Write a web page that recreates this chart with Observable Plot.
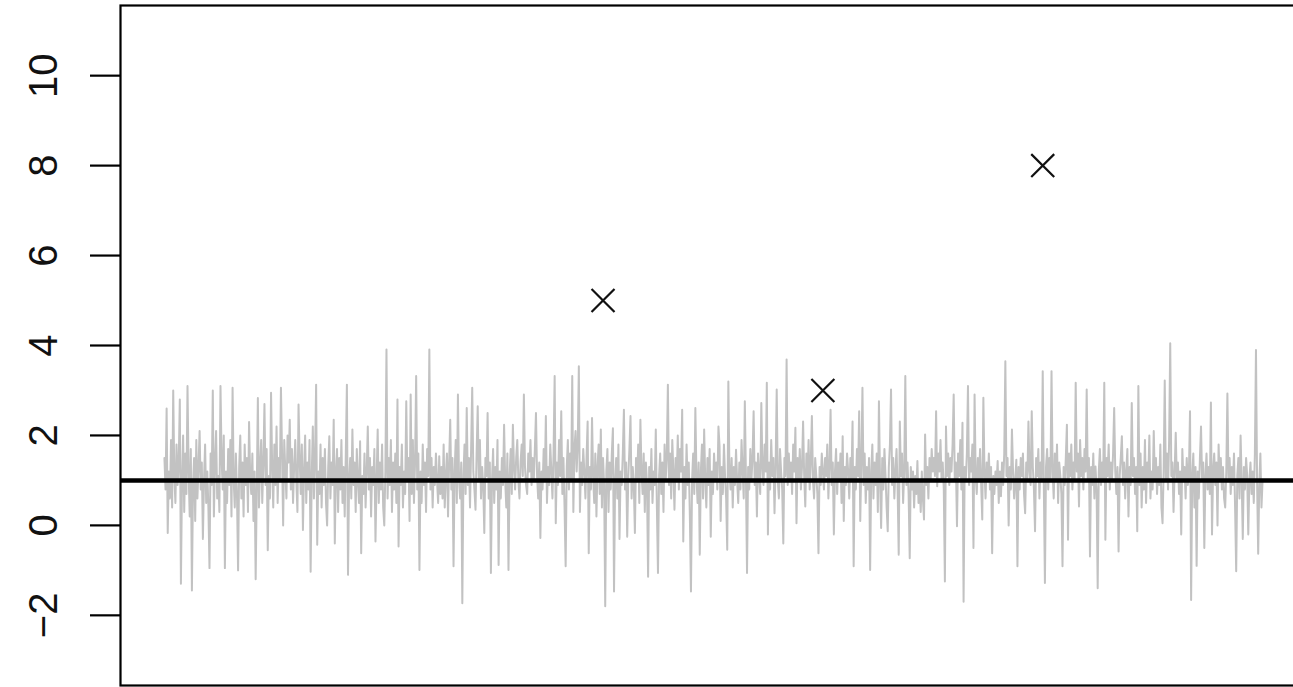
<!DOCTYPE html>
<html>
<head>
<meta charset="utf-8">
<script src="https://cdn.jsdelivr.net/npm/d3@7"></script>
<script src="https://cdn.jsdelivr.net/npm/@observablehq/plot@0.6"></script>
<style>
  html, body { margin: 0; padding: 0; background: #ffffff; overflow: hidden; }
  #chart svg { display: block; }
</style>
</head>
<body>
<div id="chart"></div>
<script>
// Noisy series (index 1..1000)
const series = [
  1.5, 0.8, 2.6, -0.17, 1.2, 0.6, 1.9, 0.4, 3.0, 1.1,
  0.5, 1.8, 0.9, 1.4, 2.8, -1.3, 1.0, 2.0, 0.3, 1.6,
  0.7, 3.1, 1.2, 0.2, 1.7, -1.45, 0.9, 1.5, 0.1, 1.9,
  0.6, 1.3, 2.1, 0.8, 1.4, -0.3, 1.0, 1.8, 0.5, 1.2,
  0.4, -0.95, 1.6, 0.9, 3.0, 0.2, 1.4, 2.1, 0.6, 1.1,
  0.3, 3.1, 1.5, 0.8, 2.0, -0.95, 1.2, 0.5, 1.7, 0.9,
  1.9, 0.2, 3.06, 1.0, 0.4, 1.6, 0.7, -1.0, 1.3, 2.0,
  0.6, 1.4, 0.2, 1.8, 0.9, 1.5, 0.3, 2.3, 1.1, 0.7,
  1.6, 0.1, 1.2, -1.2, 0.8, 2.83, 0.4, 1.3, 1.9, 0.5,
  1.4, 2.7, 0.9, 1.7, -0.55, 1.1, 0.6, 2.95, 1.3, 0.4,
  1.8, 0.9, 2.2, 0.5, 1.5, 1.0, 3.06, 1.6, 0.0, 1.9,
  1.2, 0.6, 2.0, 1.4, 2.35, 0.8, 1.7, 0.5, 1.3, 1.9,
  1.0, 0.3, 2.69, 1.5, 0.7, 1.8, -0.1, 1.2, 2.0, 0.5,
  1.4, 0.8, 1.9, -1.03, 1.1, 2.2, 0.6, 1.5, 3.13, -0.43,
  1.2, 0.7, 1.8, 0.4, 1.5, 0.9, 1.7, 0.5, 0.0, 1.3,
  1.98, 0.6, 1.4, 0.9, 2.35, -0.4, 1.2, 1.7, 0.3, 1.5,
  0.8, 1.9, 0.5, 1.3, 0.2, 1.6, 3.13, -1.1, 1.0, 1.5,
  0.6, 2.13, 0.9, 1.4, 0.3, 1.7, 1.0, 0.5, 1.87, -0.62,
  1.1, 0.7, 1.6, 0.4, 1.2, 2.2, 0.8, 1.5, 0.2, 1.3,
  0.9, 1.7, -0.36, 1.0, 2.13, 0.5, 1.4, 0.8, 1.8, 0.4,
  0.0, 1.2, 3.91, 0.6, 1.5, 0.9, 1.9, 0.3, 1.4, 0.8,
  1.6, 0.5, 2.8, -0.47, 1.3, 0.9, 1.8, 0.4, 1.2, 0.7,
  2.76, 1.0, 1.5, 0.1, 2.91, 0.7, 1.9, 0.5, 1.4, 3.32,
  0.8, 1.6, -0.99, 1.2, 0.5, 1.8, 0.9, 1.4, 0.3, 1.7,
  1.1, 3.91, 0.8, 1.5, 0.4, 1.3, 0.9, 1.6, 1.0, 0.5,
  1.54, 0.7, 1.3, 0.6, 1.8, 0.4, 1.1, 1.6, 0.2, 1.4,
  2.35, 0.8, 1.5, -0.91, 1.2, 1.9, 0.5, 2.91, 1.0, 0.6,
  1.4, -1.73, 1.1, 1.8, 0.7, 2.61, 0.9, 1.5, 0.4, 1.7,
  3.06, 1.2, 0.8, 0.35, 1.6, 2.65, 1.0, 1.9, 0.6, 1.3,
  0.9, -0.17, 1.5, 1.1, 2.5, 0.6, 1.4, -1.06, 1.0, 1.7,
  0.5, 1.3, 0.8, 1.9, -0.88, 1.2, 0.6, 1.5, 0.9, 2.24,
  1.0, 0.4, 1.6, -0.99, 1.1, 1.7, 0.7, 2.24, 1.3, 0.8,
  1.5, 1.9, 1.0, 0.6, 1.4, 1.8, 1.1, 2.91, 1.3, 0.9,
  0.7, 1.6, 1.2, 1.9, 0.9, 1.5, 1.0, 1.7, 2.5, 1.1,
  0.6, 1.4, -0.28, 1.2, 0.8, 1.7, 1.0, 2.43, 0.5, 1.3,
  0.9, 1.8, 1.2, 0.6, 1.6, 3.32, 0.05, 1.4, 0.9, 1.9,
  1.1, 2.54, 0.7, 1.5, 0.4, -0.91, 1.3, 1.9, 0.8, 1.6,
  1.0, 3.32, 0.3, 1.7, 2.1, 1.2, 1.8, 3.54, 0.3, 1.4,
  0.9, 1.7, 1.2, 0.6, 1.5, 2.31, -0.62, 1.3, 0.8, 2.39,
  1.1, 0.5, 1.6, 0.2, 1.3, 1.8, 0.7, 2.13, 0.4, 1.5,
  0.9, -1.8, 1.2, 1.7, 0.3, 1.4, 0.8, 1.6, 2.16, -1.47,
  1.0, 1.5, 0.6, 1.8, -0.3, 1.2, 0.9, 1.6, 2.57, 0.8,
  1.4, -0.25, 1.1, 1.7, 2.43, 0.6, 1.3, 0.9, -0.17, 1.5,
  1.0, 1.8, 0.5, 2.35, 1.2, 0.7, 1.6, 0.3, 1.4, 0.9,
  -1.14, 1.3, 0.8, 1.7, 0.5, 1.2, 0.9, 2.13, 0.4, -1.06,
  1.1, 1.6, 0.7, 1.4, 0.3, 1.8, 1.0, 1.5, 3.13, 0.9,
  1.6, 0.6, 1.9, 1.2, 0.35, 1.5, 1.0, 2.0, 0.8, 1.7,
  1.2, 2.57, -0.36, 1.3, 0.6, 1.8, 0.9, 1.4, 0.2, -1.47,
  1.0, 1.6, 0.7, 2.61, 1.1, 0.5, 1.4, -0.65, 1.2, 1.8,
  0.6, 2.13, 1.0, 0.4, 1.5, 0.9, 1.7, -0.25, 1.2, 0.7,
  1.6, 1.0, 1.4, 0.8, 2.2, 1.76, 0.1, 1.3, 0.7, 1.8,
  1.1, 0.6, -0.54, 3.2, 1.2, 0.8, 1.5, 0.4, 1.3, 0.9,
  1.68, 1.0, 0.5, 1.4, 0.8, 1.9, 1.2, 0.6, 2.76, 1.1,
  -1.06, 1.3, 0.8, 1.7, 1.0, 1.5, 2.54, 0.9, 1.4, 0.2,
  1.6, 1.1, 0.7, 2.72, 1.3, 0.9, 1.8, 1.2, 3.17, -0.2,
  1.4, 0.8, 1.9, 1.1, 1.5, 0.27, 1.3, 3.02, 1.0, 0.6,
  1.7, 1.2, 0.8, -0.4, 1.5, 1.1, 3.69, 0.9, 1.6, 1.0,
  1.4, 0.7, 1.8, 1.2, 2.17, 0.05, 1.5, 1.0, 1.7, 0.8,
  1.3, 2.31, 1.1, 0.42, 1.6, 1.0, 1.9, 0.8, 1.4, 2.43,
  1.0, 0.6, 1.5, 1.1, 0.7, -0.62, 1.3, 0.9, 1.6, 1.2,
  0.8, 1.5, 1.1, 1.8, 0.6, 1.3, 2.57, 0.9, 1.4, -0.2,
  1.2, 1.7, 0.7, 1.4, 1.0, 1.6, 0.5, 1.98, 0.1, 1.3,
  0.9, 1.6, 1.2, 0.6, 1.5, 1.0, 2.31, -0.91, 1.3, 0.8,
  1.7, 1.1, 2.54, 0.1, 1.4, 3.06, 0.9, 1.6, 0.5, 1.3,
  0.8, 1.5, -0.99, 1.2, 1.8, 0.6, 1.4, 0.9, 1.6, 0.3,
  2.76, 1.0, -0.06, 1.5, 0.8, 1.7, 1.1, 0.4, -0.13, 1.3,
  1.8, 3.02, 0.9, 1.5, 0.6, 1.2, 1.7, 0.8, -0.65, 2.31,
  1.1, 1.6, 0.5, 1.2, 3.32, 0.9, 1.4, 0.7, -0.73, 1.3,
  0.8, 1.2, 0.4, 1.1, 0.7, 1.43, 0.5, 1.0, 0.3, 1.2,
  0.6, 0.13, 2.02, 0.9, 1.3, 0.6, 1.5, 1.0, 1.7, 1.2,
  1.5, 1.1, 2.54, 0.87, 1.6, 1.2, 1.9, 1.0, 1.4, 0.8,
  -1.25, 2.2, 1.1, 1.6, 0.9, 1.5, 1.2, 1.8, 2.91, 1.0,
  1.4, -0.02, 1.6, 1.1, 1.9, 0.8, 2.28, -1.7, 1.3, 1.0,
  1.6, 3.1, 0.9, 1.5, 1.2, 1.8, -0.5, 2.91, 1.1, 0.7,
  1.5, 1.0, 1.7, 0.9, 0.13, 2.84, 1.2, 0.6, 1.4, 1.0,
  1.6, 0.8, 1.3, -0.62, 1.1, 0.7, 1.2, 0.9, 1.43, 0.5,
  1.2, 0.65, 1.4, 0.9, 1.6, 3.65, 1.1, 1.5, 0.0, 1.3,
  0.8, 2.13, 1.2, 0.6, 1.0, 1.46, -0.91, 1.3, 0.8, 1.5,
  1.1, 1.6, 0.7, 0.27, 1.4, 1.0, 2.31, 1.2, 0.9, 2.54,
  1.3, 0.8, -0.13, 1.5, 1.1, 1.7, 0.6, 1.4, 1.0, 3.43,
  0.9, -1.28, 1.3, 1.7, 0.8, 1.5, 1.0, 3.43, 1.2, 0.6,
  1.6, 1.0, 1.8, 0.5, 1.4, 1.1, 0.7, -0.91, 1.3, 0.9,
  1.5, 2.24, -0.32, 1.6, 1.1, 1.8, 0.8, 1.4, 1.0, 3.17,
  1.2, 1.6, 0.42, 1.9, 1.1, 1.5, 0.8, 1.7, 1.2, 3.02,
  1.0, 1.5, -0.69, 1.3, 0.9, 1.6, 0.6, 1.31, 0.8, -1.4,
  1.2, 1.7, 0.9, 1.4, 1.0, 3.17, -0.32, 1.5, 1.1, 1.8,
  0.8, 1.4, 1.0, 1.6, 2.61, 1.2, 0.7, 1.3, -0.58, 1.1,
  1.5, 1.98, 0.9, 1.4, 0.6, 1.2, 1.7, 0.2, 1.3, 0.9,
  2.72, 1.1, 1.5, 0.7, 1.3, -0.13, 3.1, 0.9, 1.6, 0.4,
  1.3, 0.8, 1.9, 0.5, 1.4, 1.0, 2.0, 0.6, 1.2, 0.8,
  2.1, 1.0, 1.5, 0.7, 1.3, 0.9, 1.8, 0.4, 0.05, 1.2,
  3.22, 1.0, 1.6, 0.8, 1.9, 4.05, 1.1, 1.4, 0.3, 1.2,
  2.06, 1.0, 1.4, 0.7, 1.2, -0.2, 1.7, 1.0, 1.3, 0.6,
  1.5, 0.9, 1.2, 2.54, -1.66, 1.1, 1.6, 0.4, 1.3, -0.9,
  1.2, 0.6, 1.5, 2.2, 1.0, 1.4, -0.5, 1.1, 1.6, 0.8,
  1.3, 0.7, 2.73, -0.2, 1.2, 1.6, 0.9, 1.4, 0.0, 1.8,
  1.0, 1.5, 0.8, 1.3, 0.6, 0.4, 1.2, 2.93, 1.0, 1.5,
  0.7, 1.3, 0.9, 1.6, 0.4, -1.02, 1.1, 1.5, 0.6, 2.0,
  1.0, -0.3, 1.3, 0.8, 1.5, 1.1, -0.2, 1.0, 1.4, 0.7,
  1.2, 0.5, 1.6, 3.9, 1.0, -0.63, 0.9, 1.6, 0.4, 1.0
];

// Highlighted points (crosses)
const markerIndex = [400, 600, 800];
const markerValue = [5, 3, 8];

// Horizontal reference line
const refLine = [1];

// Y-axis tick values
const yTicks = [-2, 0, 2, 4, 6, 8, 10];

const seriesData = series.map((v, i) => ({ idx: i + 1, value: v }));
const markers = markerIndex.map((m, i) => ({ idx: m, value: markerValue[i] }));

const chart = Plot.plot({
  width: 1293,
  height: 687,
  marginLeft: 120,
  marginRight: -13,
  marginTop: 5,
  marginBottom: 2,
  style: { fontFamily: "'Liberation Sans', Arial, Helvetica, sans-serif", background: "#ffffff" },
  x: { domain: [-38.96, 1039.96], axis: null },
  y: { domain: [-3.56, 11.56], axis: null },
  marks: [
    Plot.lineY(seriesData, { x: "idx", y: "value", stroke: "#c2c2c2", strokeWidth: 2 }),
    Plot.ruleY(refLine, { stroke: "#000000", strokeWidth: 4.5 }),
    Plot.dot(markers, { x: "idx", y: "value", symbol: "times", r: 10.5, stroke: "#111111", strokeWidth: 2.2 }),
    Plot.frame({ stroke: "#000000", strokeWidth: 2.2 }),
    Plot.axisY({ ticks: yTicks, tickSize: 30, tickFormat: () => "", label: null, stroke: "#000000", strokeWidth: 2.2 }),
    Plot.text(yTicks, {
      y: d => d,
      text: d => (d < 0 ? "\u2212" + Math.abs(d) : String(d)),
      frameAnchor: "left",
      dx: -76,
      rotate: -90,
      fontSize: 40,
      lineAnchor: "middle",
      textAnchor: "middle",
      fill: "#111111"
    })
  ]
});

document.getElementById("chart").appendChild(chart);
</script>
</body>
</html>
